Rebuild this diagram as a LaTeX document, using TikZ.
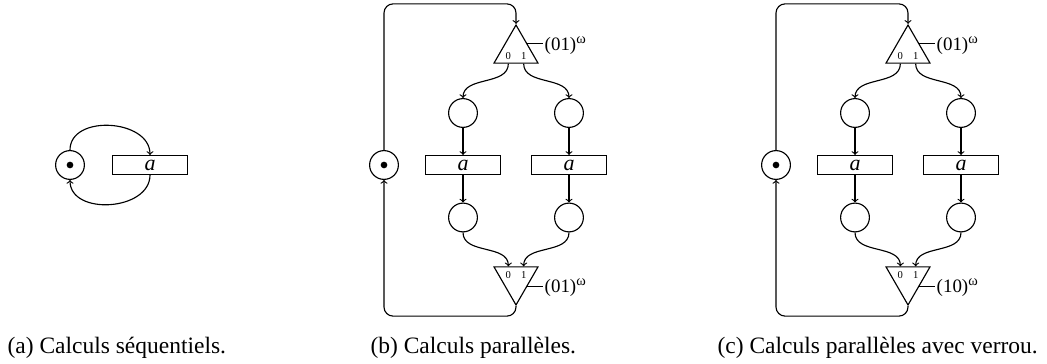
\documentclass[tikz,border=0pt]{standalone}
\usepackage{fontspec}
\setmainfont{Liberation Serif}
\usetikzlibrary{petri,calc,shapes.geometric}

\newcommand{\omg}{\textsuperscript{\fontsize{9.5}{10}\selectfont ω}}

\tikzset{
  every place/.style={minimum size=19pt,inner sep=0pt},
  every transition/.style={minimum width=49.5pt,minimum height=12.5pt,inner sep=0pt,
    font=\fontsize{14.5}{15}\selectfont\itshape},
  every token/.append style={minimum size=4.4pt},
  splitter/.style={draw,regular polygon,regular polygon sides=3,minimum size=33.5pt,inner sep=0pt},
  joiner/.style={splitter,shape border rotate=180},
  portlbl/.style={font=\fontsize{7}{7}\selectfont,inner sep=0pt},
  pattern/.style={anchor=base west,inner sep=1pt,font=\fontsize{12.5}{13}\selectfont},
  caption/.style={anchor=base west,inner sep=0pt,font=\fontsize{15.5}{17}\selectfont}
}

\begin{document}
\begin{tikzpicture}[x=0.66pt,y=0.66pt,line width=0.75pt]
\useasboundingbox (0,0) rectangle (1047,-364);

% (a) sequentiel
\node[place,tokens=1]
(pa)
at (70,-165)
{};

\node[transition]
(ta)
at (150,-165)
{a};

\draw[->] (pa.north) to[out=90,in=90,looseness=1.15] (ta.north);
\draw[->] (ta.south) to[out=-90,in=-90,looseness=1.15] (pa.south);

\node[caption] (capa) at (7,-354) {(a) Calculs séquentiels.};

% (b) parallele
\node[place,tokens=1]
(pb)
at (384,-165)
{};

\node[splitter]
(sb)
at (516,-50.4)
{};

\node[joiner]
(jb)
at (516,-279.6)
{};

\node[place] (lb1) at (463,-113) {};
\node[place] (rb1) at (569,-113) {};
\node[transition] (lbt) at (463,-165) {a};
\node[transition] (rbt) at (569,-165) {a};
\node[place] (lb2) at (463,-217.5) {};
\node[place] (rb2) at (569,-217.5) {};

% ports
\coordinate (sb0) at ($(sb.corner 2)!1/3!(sb.corner 3)$);
\coordinate (sb1) at ($(sb.corner 2)!2/3!(sb.corner 3)$);
\coordinate (jb0) at ($(jb.corner 3)!1/3!(jb.corner 2)$);
\coordinate (jb1) at ($(jb.corner 3)!2/3!(jb.corner 2)$);
\node[portlbl,above=2.6pt] at (sb0) {0};
\node[portlbl,above=2.6pt] at (sb1) {1};
\node[portlbl,below=3pt] at (jb0) {0};
\node[portlbl,below=3pt] at (jb1) {1};

% motifs
\coordinate (sbl) at ($(sb.side 3)+(10pt,0)$);
\node[pattern] (sbw) at ($(sbl)+(0,-4.2pt)$) {(01)\omg};
\draw (sb.side 3) -- (sbl);
\coordinate (jbl) at ($(jb.side 1)+(10pt,0)$);
\node[pattern] (jbw) at ($(jbl)+(0,-4.2pt)$) {(01)\omg};
\draw (jb.side 1) -- (jbl);

\draw[->] (sb0) to[out=-90,in=90] (lb1.north);
\draw[->] (sb1) to[out=-90,in=90] (rb1.north);
\draw[->] (lb1) -- (lbt);
\draw[->] (rb1) -- (rbt);
\draw[->] (lbt) -- (lb2);
\draw[->] (rbt) -- (rb2);
\draw[->] (lb2.south) to[out=-90,in=90] (jb0);
\draw[->] (rb2.south) to[out=-90,in=90] (jb1);

\draw[->,rounded corners=6pt] (pb.north) |- ([yshift=13.2pt]sb.corner 1) -- (sb.corner 1);
\draw[->,rounded corners=6pt] (jb.corner 1) -- ([yshift=-6.6pt]jb.corner 1) -| (pb.south);

\node[caption] (capb) at (370,-354) {(b) Calculs parallèles.};

% (c) parallele avec verrou
\node[place,tokens=1]
(pc)
at (776,-165)
{};

\node[splitter]
(sc)
at (908,-50.4)
{};

\node[joiner]
(jc)
at (908,-279.6)
{};

\node[place] (lc1) at (855,-113) {};
\node[place] (rc1) at (961,-113) {};
\node[transition] (lct) at (855,-165) {a};
\node[transition] (rct) at (961,-165) {a};
\node[place] (lc2) at (855,-217.5) {};
\node[place] (rc2) at (961,-217.5) {};

% ports
\coordinate (sc0) at ($(sc.corner 2)!1/3!(sc.corner 3)$);
\coordinate (sc1) at ($(sc.corner 2)!2/3!(sc.corner 3)$);
\coordinate (jc0) at ($(jc.corner 3)!1/3!(jc.corner 2)$);
\coordinate (jc1) at ($(jc.corner 3)!2/3!(jc.corner 2)$);
\node[portlbl,above=2.6pt] at (sc0) {0};
\node[portlbl,above=2.6pt] at (sc1) {1};
\node[portlbl,below=3pt] at (jc0) {0};
\node[portlbl,below=3pt] at (jc1) {1};

% motifs
\coordinate (scl) at ($(sc.side 3)+(10pt,0)$);
\node[pattern] (scw) at ($(scl)+(0,-4.2pt)$) {(01)\omg};
\draw (sc.side 3) -- (scl);
\coordinate (jcl) at ($(jc.side 1)+(10pt,0)$);
\node[pattern] (jcw) at ($(jcl)+(0,-4.2pt)$) {(10)\omg};
\draw (jc.side 1) -- (jcl);

\draw[->] (sc0) to[out=-90,in=90] (lc1.north);
\draw[->] (sc1) to[out=-90,in=90] (rc1.north);
\draw[->] (lc1) -- (lct);
\draw[->] (rc1) -- (rct);
\draw[->] (lct) -- (lc2);
\draw[->] (rct) -- (rc2);
\draw[->] (lc2.south) to[out=-90,in=90] (jc0);
\draw[->] (rc2.south) to[out=-90,in=90] (jc1);

\draw[->,rounded corners=6pt] (pc.north) |- ([yshift=13.2pt]sc.corner 1) -- (sc.corner 1);
\draw[->,rounded corners=6pt] (jc.corner 1) -- ([yshift=-6.6pt]jc.corner 1) -| (pc.south);

\node[caption] (capc) at (717,-354) {(c) Calculs parallèles avec verrou.};

\end{tikzpicture}
\end{document}
